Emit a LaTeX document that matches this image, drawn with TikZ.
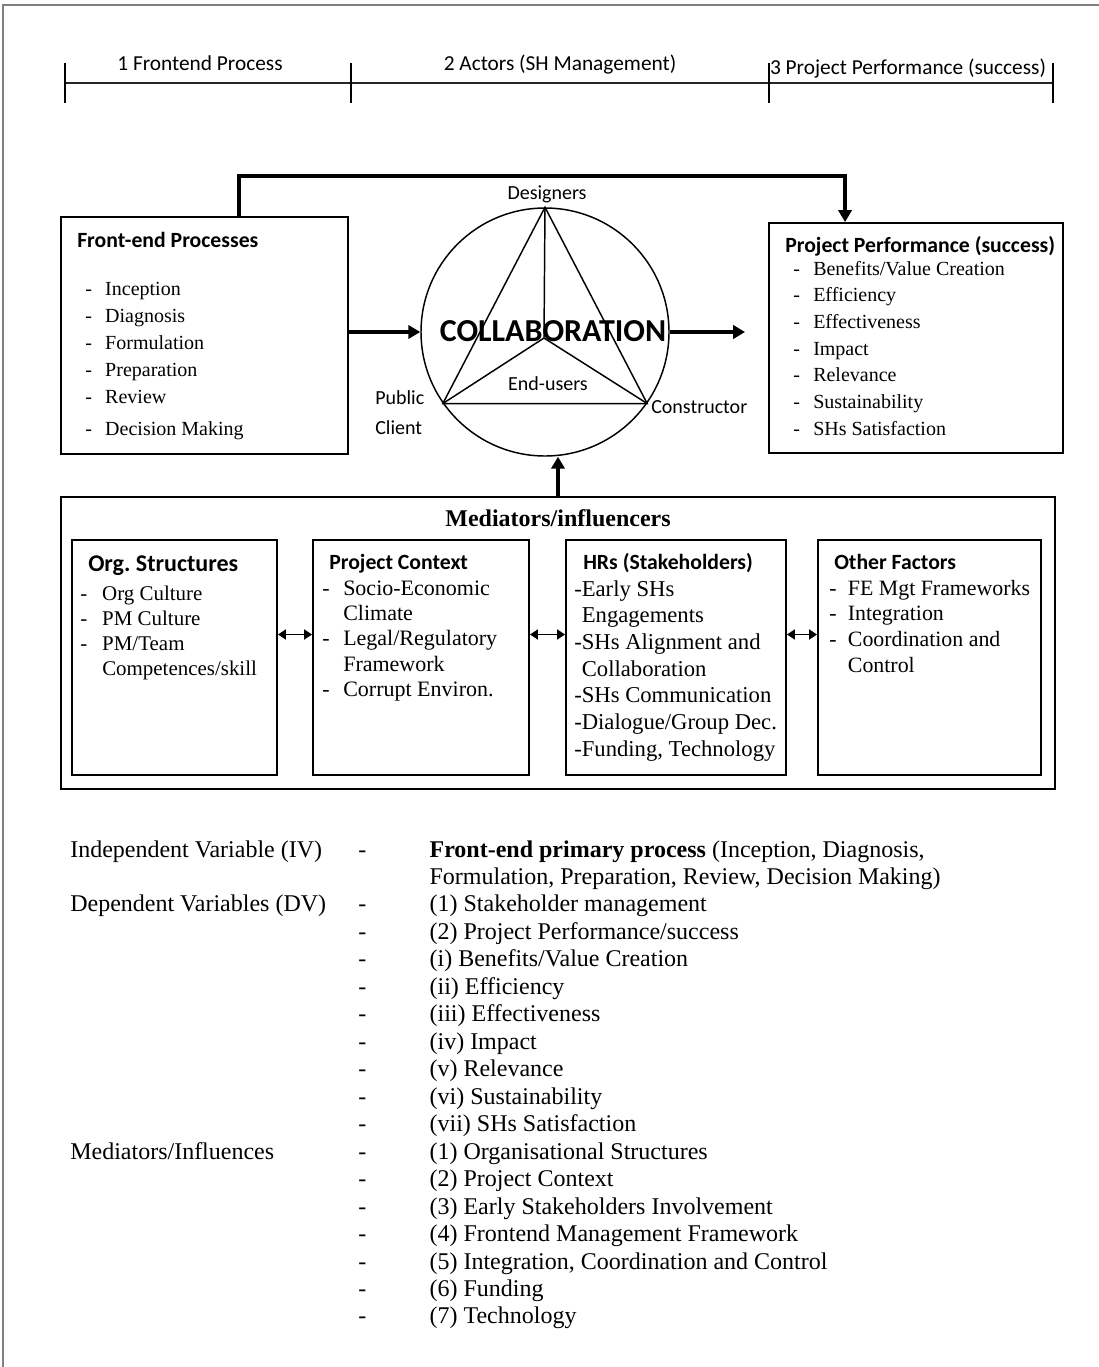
\documentclass[tikz,border=0pt]{standalone}
\usepackage{fontspec}
\setmainfont{Liberation Serif}
\newfontfamily\calibri{Carlito}
\usetikzlibrary{arrows.meta,positioning,calc,fit}

\begin{document}
\begin{tikzpicture}[x=0.75pt,y=-0.75pt,
  >={Triangle[length=9pt,width=10pt]},
  box/.style={draw,line width=1.4pt,inner sep=0pt},
  link/.style={line width=3pt},
  dbl/.style={line width=1.4pt,{Triangle[length=6pt,width=7.5pt]}-{Triangle[length=6pt,width=7.5pt]}},
  ruler/.style={font=\calibri\fontsize{16}{19}\selectfont,anchor=base,inner sep=0pt},
  actor/.style={font=\calibri\fontsize{15}{22.5}\selectfont,inner sep=0pt},
  head/.style={font=\calibri\bfseries\fontsize{16.3}{19}\selectfont,anchor=base west,inner sep=0pt},
  items/.style={font=\fontsize{15}{#1}\selectfont,anchor=base west,inner sep=0pt}]
\useasboundingbox (0,0) rectangle (1099,1367);
\draw[gray,line width=1pt] (3,1367) -- (3,5) -- (1099,5);

% stages
\draw[black!85,line width=2pt] (65,83) -- (1053,83);
\foreach \x in {65,351,769,1053}
  \draw[line width=1pt] (\x,63) -- (\x,103);
\node[ruler] (stageA) at (200,70) {1 Frontend Process};
\node[ruler] (stageB) at (560,70) {2 Actors (SH Management)};
\node[ruler] (stageC) at (908,74) {3 Project Performance (success)};

% front-end box
\node[box,fit={(61,217) (348,454)}] (fep) {};
\node[head] (fepT) at (77,247) {Front-end Processes};
\node[items=20.25pt] (fepL) at (85,295) {\begin{tabular}[t]{@{}p{15pt}@{}l@{}}
- & Inception\\ - & Diagnosis\\ - & Formulation\\ - & Preparation\\ - & Review\\[4pt]
- & Decision Making\end{tabular}};

% collaboration circle
\node[circle,draw,line width=1.1pt,minimum size=186pt,inner sep=0pt] (collab) at (545,332) {};
\coordinate (hub) at (544,338);
\draw[line width=1.1pt] (collab.90) -- (collab.215) -- (collab.325) -- cycle;
\draw[line width=1.1pt] (collab.90) -- (hub) (collab.215) -- (hub) -- (collab.325);
\node[actor,anchor=base] (designers) at (547,199) {Designers};
\node[font=\calibri\bfseries\fontsize{24}{28}\selectfont,inner sep=0pt] (collabT) at (553,331) {COLLABORATION};
\node[actor,anchor=base] (endusers) at (548,390) {End-users};
\node[actor,align=left,anchor=west] (client) at (375,413) {Public\\Client};
\node[actor,anchor=base west] (constructor) at (651,413) {Constructor};

% performance box
\node[box,fit={(769,223) (1063,453)}] (pp) {};
\node[head] (ppT) at (785,252) {Project Performance (success)};
\node[items=20pt] (ppL) at (793,275) {\begin{tabular}[t]{@{}p{15pt}@{}l@{}}
- & Benefits/Value Creation\\ - & Efficiency\\ - & Effectiveness\\ - & Impact\\
- & Relevance\\ - & Sustainability\\ - & SHs Satisfaction\end{tabular}};

% mediators
\node[box,fit={(61,497) (1055,789)}] (med) {};
\node[font=\bfseries\fontsize{18}{21}\selectfont,anchor=base,inner sep=0pt] (medT) at (558,526) {Mediators/influencers};

\node[box,fit={(72,540) (277,775)}] (org) {};
\node[head,font=\calibri\bfseries\fontsize{18}{21}\selectfont] (orgT) at (88,571) {Org.\ Structures};
\node[items=18.75pt,font=\fontsize{15.7}{18.75}\selectfont] (orgL) at (80,600) {\begin{tabular}[t]{@{}p{16.5pt}@{}l@{}}
- & Org Culture\\ - & PM Culture\\ - & PM/Team\\ & Competences/skill\end{tabular}};

\node[box,fit={(313,540) (529,775)}] (pc) {};
\node[head] (pcT) at (329,569) {Project Context};
\node[items=19pt,font=\fontsize{16.5}{19}\selectfont] (pcL) at (322,595) {\begin{tabular}[t]{@{}p{15.75pt}@{}l@{}}
- & Socio-Economic\\ & Climate\\ - & Legal/Regulatory\\ & Framework\\
- & Corrupt Environ.\end{tabular}};

\node[box,fit={(566,540) (786,775)}] (hr) {};
\node[head] (hrT) at (583,569) {HRs (Stakeholders)};
\node[items=20pt,font=\fontsize{17}{20}\selectfont] (hrL) at (574,596) {\begin{tabular}[t]{@{}l@{}l@{}}
- & Early SHs\\ & Engagements\\ - & SHs Alignment and\\ & Collaboration\\
- & SHs Communication\\ - & Dialogue/Group Dec.\\ - & Funding, Technology\end{tabular}};

\node[box,fit={(818,540) (1041,775)}] (other) {};
\node[head] (otherT) at (834,569) {Other Factors};
\node[items=19.3pt,font=\fontsize{16.4}{19.3}\selectfont] (otherL) at (829,595) {\begin{tabular}[t]{@{}p{14pt}@{}l@{}}
- & FE Mgt Frameworks\\ - & Integration\\ - & Coordination and\\ & Control\end{tabular}};

% links
\draw[link,->] (fep.east |- collab.west) -- (collab.west);
\draw[link,->] (collab.east) -- ($(pp.west |- collab.east)+(-23,0)$);
\draw[link,->] ($(fep.north west)+(179,0)$) -- ++(0,-40) -| ($(pp.north west)+(77,0)$);
\draw[link,->] (med.north) -- (med.north |- collab.south);
\draw[dbl] ($(org.east)+(0,-23)$) -- ($(pc.west)+(0,-23)$);
\draw[dbl] ($(pc.east)+(0,-23)$) -- ($(hr.west)+(0,-23)$);
\draw[dbl] ($(hr.east)+(0,-23)$) -- ($(other.west)+(0,-23)$);

% variables
\node[items=20.6pt,font=\fontsize{18}{20.6}\selectfont] (vars) at (70,857) {\begin{tabular}[t]{@{}p{216pt}@{}p{53.5pt}@{}l@{}}
Independent Variable (IV) & - & \textbf{Front-end primary process} (Inception, Diagnosis,\\
 & & Formulation, Preparation, Review, Decision Making)\\
Dependent Variables (DV) & - & (1) Stakeholder management\\
 & - & (2) Project Performance/success\\
 & - & (i) Benefits/Value Creation\\
 & - & (ii) Efficiency\\
 & - & (iii) Effectiveness\\
 & - & (iv) Impact\\
 & - & (v) Relevance\\
 & - & (vi) Sustainability\\
 & - & (vii) SHs Satisfaction\\
Mediators/Influences & - & (1) Organisational Structures\\
 & - & (2) Project Context\\
 & - & (3) Early Stakeholders Involvement\\
 & - & (4) Frontend Management Framework\\
 & - & (5) Integration, Coordination and Control\\
 & - & (6) Funding\\
 & - & (7) Technology\end{tabular}};
\end{tikzpicture}
\end{document}
